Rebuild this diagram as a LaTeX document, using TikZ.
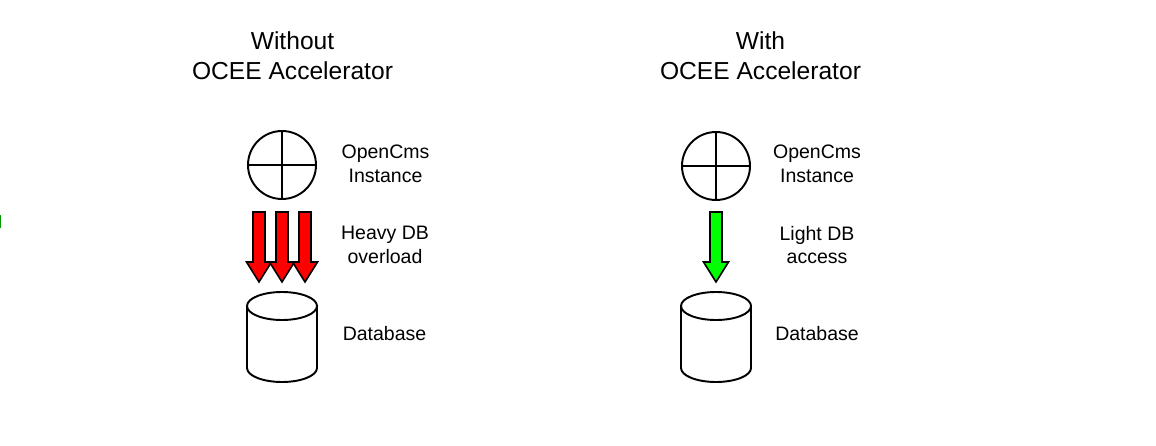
\documentclass[tikz,border=0pt]{standalone}
\usepackage{fontspec}
\setmainfont{Liberation Sans}
\usetikzlibrary{positioning,calc}

\tikzset{
  titulo/.style={align=center,font=\fontsize{14}{17}\selectfont},
  etiqueta/.style={align=center,font=\fontsize{11.1}{13.6}\selectfont},
  instancia/.style={circle,draw,line width=1.1pt,minimum size=68*0.02cm,inner sep=0pt},
  flecha/.style={draw,line width=0.9pt,line join=miter},
  borde/.style={line width=1.1pt}
}

% bloque de flecha: centro x, color
\newcommand{\bloqueflecha}[2]{%
  \filldraw[flecha,fill=#2] (#1-6,212) -- (#1+6,212) -- (#1+6,262) -- (#1+12.5,262)
    -- (#1,282) -- (#1-12.5,262) -- (#1-6,262) -- cycle;}

% base de datos: coordenada del centro superior
\newcommand{\cilindro}[1]{%
  \filldraw[borde,fill=white] ($(#1)+(-35,0)$) -- ++(0,62) arc[start angle=180,end angle=0,x radius=35,y radius=14]
    -- ++(0,-62);
  \draw[borde] (#1) ellipse[x radius=35,y radius=14];}

\begin{document}
\begin{tikzpicture}[x=0.02cm,y=-0.02cm]
\useasboundingbox (0,0) rectangle (1156,446);

% marca en el borde
\draw[green!60!black,line width=1pt] (0.6,215) -- (0.6,228);

% Sin acelerador
\node[titulo] (tit1) at (292.5,56) {Without\\OCEE Accelerator};
\node[instancia] (inst1) at (282,165) {};
\draw[borde] (inst1.north) -- (inst1.south);
\draw[borde] (inst1.west) -- (inst1.east);
\node[etiqueta] (lab1) at (385.5,164) {OpenCms\\Instance};

% Carga pesada
\bloqueflecha{259}{red}
\bloqueflecha{282}{red}
\bloqueflecha{305}{red}
\node[etiqueta] (carga1) at (385,245) {Heavy DB\\overload};

% Base de datos
\coordinate (db1) at (282,306);
\cilindro{db1}
\node[etiqueta] (dbl1) at (384.5,334) {Database};

% Con acelerador
\node[titulo] (tit2) at (760.5,56) {With\\OCEE Accelerator};
\node[instancia] (inst2) at (716,166) {};
\draw[borde] (inst2.north) -- (inst2.south);
\draw[borde] (inst2.west) -- (inst2.east);
\node[etiqueta] (lab2) at (817,164) {OpenCms\\Instance};

% Acceso ligero
\bloqueflecha{716}{green}
\node[etiqueta] (carga2) at (817,245) {Light DB\\access};

% Base de datos
\coordinate (db2) at (716,306);
\cilindro{db2}
\node[etiqueta] (dbl2) at (817,334) {Database};

\end{tikzpicture}
\end{document}
